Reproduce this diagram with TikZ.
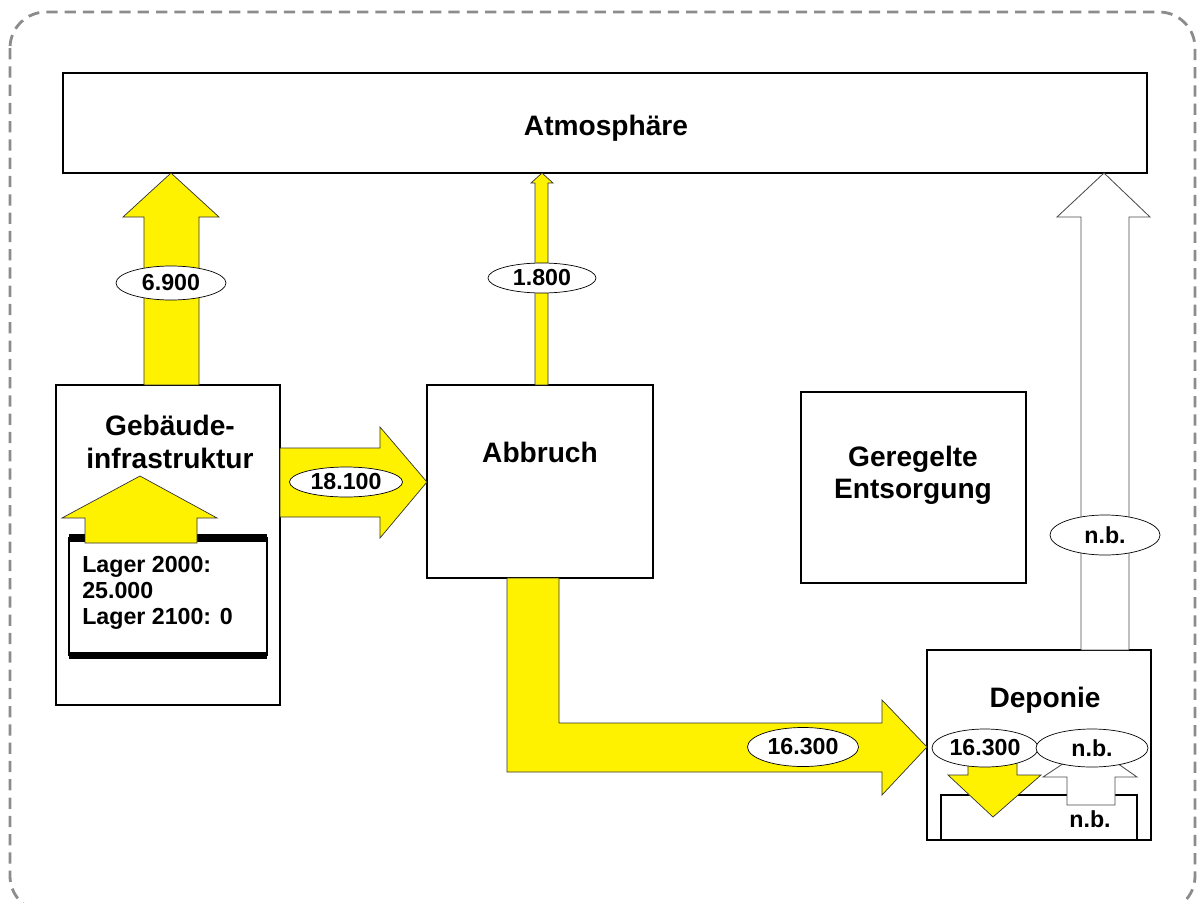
\documentclass[tikz,border=0pt]{standalone}
\usepackage{fontspec}
\setmainfont{Liberation Sans}
\usetikzlibrary{positioning, calc, shapes.geometric}

\begin{document}
\begin{tikzpicture}[
    x=0.025cm, y=-0.025cm,
    box/.style={rectangle, draw, line width=1.5pt, fill=white, inner sep=0pt, outer sep=0pt, align=center, font=\bfseries\fontsize{20}{23}\selectfont},
    boxtext/.style={align=center, inner sep=0pt, font=\bfseries\fontsize{20}{23}\selectfont},
    stocktext/.style={align=left, inner sep=0pt, font=\bfseries\fontsize{16.5}{18.4}\selectfont},
    amount/.style={ellipse, draw, fill=white, line width=0.5pt, inner sep=0pt, minimum width=2.75cm, minimum height=0.85cm, font=\bfseries\fontsize{16.5}{18}\selectfont},
    yflow/.style={fill=yellow, draw=black!80, line width=0.5pt},
    wflow/.style={fill=white, draw=black!70, line width=0.6pt},
    frame/.style={dash pattern=on 8pt off 5pt, line width=2pt, black!45, rounded corners=0.9cm}
  ]
  \useasboundingbox (0,0) rectangle (1203,902);
  \clip (0,0) rectangle (1203,902);

  % --- Frame ---
  \draw[frame] (10,12) rectangle (1195,912);

  % --- Boxes ---
  \node[box, minimum width=27.1cm, minimum height=2.5cm] (atmos) at (605,123) {};
  \node[box, line width=2pt, minimum width=5.6cm, minimum height=8cm] (geb) at (168,545) {};
  \node[box, line width=1.2pt, minimum width=4.95cm, minimum height=2.925cm] (lager) at (168,596.5) {};
  \draw[line width=5pt] (lager.north west) -- (lager.north east);
  \draw[line width=5pt] (lager.south west) -- (lager.south east);
  \node[box, minimum width=5.65cm, minimum height=4.825cm] (abbruch) at (540,481.5) {};
  \node[box, minimum width=5.625cm, minimum height=4.775cm] (entsorgung) at (913.5,487.5) {};
  \node[box, minimum width=5.6cm, minimum height=4.75cm] (deponie) at (1039,745) {};
  \node[box, line width=1.2pt, minimum width=4.9cm, minimum height=1.125cm] (store) at (1039,817.5) {};

  % --- Flows ---
  \draw[yflow] (144,0 |- geb.north) -- (144,217) -- (123,217) -- (171,0 |- atmos.south)
    -- (219,217) -- (199,217) -- (199,0 |- geb.north) -- cycle;
  \draw[yflow] (535,0 |- abbruch.north) -- (535,183) -- (531,183) -- (542,0 |- atmos.south)
    -- (553,183) -- (548,183) -- (548,0 |- abbruch.north) -- cycle;
  \draw[wflow] (1081,0 |- deponie.north) -- (1081,217) -- (1057,217) -- (1104,0 |- atmos.south)
    -- (1150,217) -- (1129,217) -- (1129,0 |- deponie.north) -- cycle;
  \draw[yflow] (geb.east |- 0,448) -- (380,448) -- (380,427) -- (abbruch.west |- 0,482)
    -- (380,538) -- (380,517) -- (geb.east |- 0,517) -- cycle;
  \draw[yflow] (507,0 |- abbruch.south) -- (507,772) -- (882,772) -- (882,795) -- (deponie.west |- 0,747)
    -- (882,700) -- (882,723) -- (559,723) -- (559,0 |- abbruch.south) -- cycle;

  % stock changes
  \draw[yflow] (85,543) -- (85,518) -- (62,518) -- (140,476) -- (217,518) -- (197,518) -- (197,543) -- cycle;
  \draw[yflow] (968,755) -- (968,775) -- (948,775) -- (993,817) -- (1041,775) -- (1017,775) -- (1017,755) -- cycle;
  \draw[wflow] (1067,805) -- (1067,777) -- (1043,777) -- (1091,745) -- (1137,777) -- (1115,777) -- (1115,805) -- cycle;

  % --- Amounts ---
  \node[amount] (a6900) at (171,283) {6.900};
  \node[amount, minimum width=2.7cm, minimum height=0.75cm] (a1800) at (542,278) {1.800};
  \node[amount, minimum width=2.825cm, minimum height=0.75cm] (a18100) at (346,482) {18.100};
  \node[amount, minimum width=2.775cm, minimum height=0.975cm] (a16300) at (803,747) {16.300};
  \node[amount, minimum height=1cm] (anbup) at (1105,535) {n.b.};
  \node[amount, minimum width=2.65cm, minimum height=0.95cm] (a16300dep) at (985,748) {16.300};
  \node[amount, minimum width=2.8cm, minimum height=0.95cm] (anbdep) at (1092,748) {n.b.};

  % --- Labels ---
  \node[boxtext] (atmostext) at (606,128) {Atmosphäre};
  \node[boxtext] (gebtext) at (170,442) {Gebäude-\\infrastruktur};
  \node[stocktext, anchor=north west] (lagertext) at (82,556) {Lager 2000:\\25.000\\Lager 2100: 0};
  \node[boxtext] (abbruchtext) at (540,452) {Abbruch};
  \node[boxtext] (entsorgungtext) at (913,475) {Geregelte\\Entsorgung};
  \node[boxtext] (deponietext) at (1045,700) {Deponie};
  \node[inner sep=0pt, font=\bfseries\fontsize{16.5}{18}\selectfont] (storetext) at (1090,819) {n.b.};
\end{tikzpicture}
\end{document}
